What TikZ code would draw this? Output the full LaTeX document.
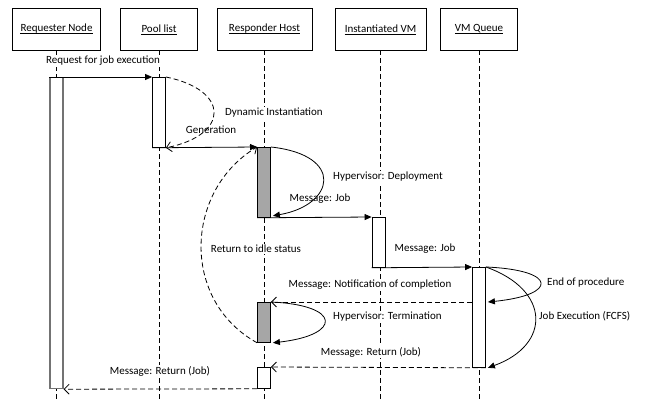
\documentclass[tikz,border=0pt]{standalone}
\usepackage{fontspec}
\setmainfont{Carlito}
\usetikzlibrary{arrows.meta,calc}

\begin{document}
\begin{tikzpicture}[x=1pt,y=-1pt,
  font=\fontsize{11}{13}\selectfont,
  header/.style={draw,line width=0.8pt,minimum height=42pt,inner sep=0pt},
  hdrname/.style={inner sep=0pt},
  uline/.style={line width=0.8pt},
  life/.style={line width=0.7pt,dash pattern=on 5pt off 3pt},
  act/.style={draw,line width=0.8pt,fill=white,minimum width=13pt,inner sep=0pt,anchor=north},
  busy/.style={act,fill=black!35},
  msg/.style={line width=0.8pt,-{Triangle[length=7pt,width=6pt]}},
  reply/.style={line width=0.8pt,dash pattern=on 5pt off 3pt,-{Straight Barb[length=5pt,width=10pt]}},
  lbl/.style={fill=white,inner sep=1pt}]

  \useasboundingbox (0,0) rectangle (653,399);
  \coordinate (bottom) at (0,399);

  % headers
  \draw (56.5,29) node (req) [header,minimum width=88pt] {};
  \draw (159,29) node (pool) [header,minimum width=77pt] {};
  \draw (264.5,29) node (resp) [header,minimum width=95pt] {};
  \draw (380.5,29) node (inst) [header,minimum width=91pt] {};
  \draw (479,29) node (vmq) [header,minimum width=77pt] {};
  \node (reqname) [hdrname] at (req) {Requester Node};
  \node (poolname) [hdrname] at (pool) {Pool list};
  \node (respname) [hdrname] at (resp) {Responder Host};
  \node (instname) [hdrname] at (inst) {Instantiated VM};
  \node (vmqname) [hdrname] at (vmq) {VM Queue};
  \draw[uline] ([yshift=-1.8pt]reqname.base west) -- ([yshift=-1.8pt]reqname.base east);
  \draw[uline] ([yshift=-1.8pt]poolname.base west) -- ([yshift=-1.8pt]poolname.base east);
  \draw[uline] ([yshift=-1.8pt]respname.base west) -- ([yshift=-1.8pt]respname.base east);
  \draw[uline] ([yshift=-1.8pt]instname.base west) -- ([yshift=-1.8pt]instname.base east);
  \draw[uline] ([yshift=-1.8pt]vmqname.base west) -- ([yshift=-1.8pt]vmqname.base east);

  % lifelines
  \draw[life] (req.south) -- (req.south |- bottom);
  \draw[life] (pool.south) -- (pool.south |- bottom);
  \draw[life] (resp.south) -- (resp.south |- bottom);
  \draw[life] (inst.south) -- (inst.south |- bottom);
  \draw[life] (vmq.south) -- (vmq.south |- bottom);

  % labels
  \node (l1) [lbl] at (103,61) {Request for job execution};
  \node (l2) [lbl,anchor=west] at (224,113) {Dynamic Instantiation};
  \node (l3) [lbl] at (211,130) {Generation};
  \node (l4) [lbl,anchor=west] at (332,177) {Hypervisor: Deployment};
  \node (l5) [lbl] at (320,199) {Message: Job};
  \node (l6) [lbl] at (256,249) {Return to idle status};
  \node (l7) [lbl] at (425,249) {Message: Job};
  \node (l8) [lbl,anchor=west] at (546,283) {End of procedure};
  \node (l9) [lbl] at (370,285) {Message: Notification of completion};
  \node (l10) [lbl,anchor=west] at (538,316) {Job Execution (FCFS)};
  \node (l11) [lbl,anchor=west] at (332,317) {Hypervisor: Termination};
  \node (l12) [lbl] at (371,352) {Message: Return (Job)};
  \node (l13) [lbl] at (160,371) {Message: Return (Job)};

  % activations
  \draw (56.5,77) node (reqact) [act,draw=black!55,line width=1.2pt,minimum height=311pt] {};
  \draw (159,77) node (poolact) [act,minimum height=70pt] {};
  \draw (264,147) node (deploy) [busy,minimum height=70pt] {};
  \draw (378.5,217) node (vmact) [act,minimum height=50pt] {};
  \draw (479,267) node (queue) [act,minimum height=100pt] {};
  \draw (264,302) node (term) [busy,minimum height=40pt] {};
  \draw (264,367) node (back) [act,minimum height=21pt] {};

  % messages
  \draw[msg] (reqact.north west) -- (poolact.north west);
  \draw[reply] (poolact.north east) .. controls (230,90) and (230,135) .. (poolact.south east);
  \draw[msg] (poolact.south west) -- (deploy.north west);
  \draw[msg] (deploy.north east) .. controls (345,155) and (335,205) .. ($(deploy.south east)+(2,-2)$);
  \draw[msg] (deploy.south west) -- (vmact.north west);
  \draw[reply] (term.south west) .. controls (180,300) and (185,190) .. (deploy.north west);
  \draw[msg] (vmact.south west) -- (queue.north west);
  \draw[msg] (queue.north east) .. controls (558,270) and (558,295) .. ($(queue.north east)+(2,35)$);
  \draw[msg] (queue.north east) .. controls (551,290) and (551,345) .. ($(queue.south east)+(2,0)$);
  \draw[reply] (term.north east -| queue.west) -- (term.north east);
  \draw[msg] (term.north east) .. controls (342,305) and (342,335) .. ($(term.south east)+(2,0)$);
  \draw[reply] (queue.south east) -- (back.north east);
  \draw[reply] (back.south west) -- (reqact.south east);

\end{tikzpicture}
\end{document}
